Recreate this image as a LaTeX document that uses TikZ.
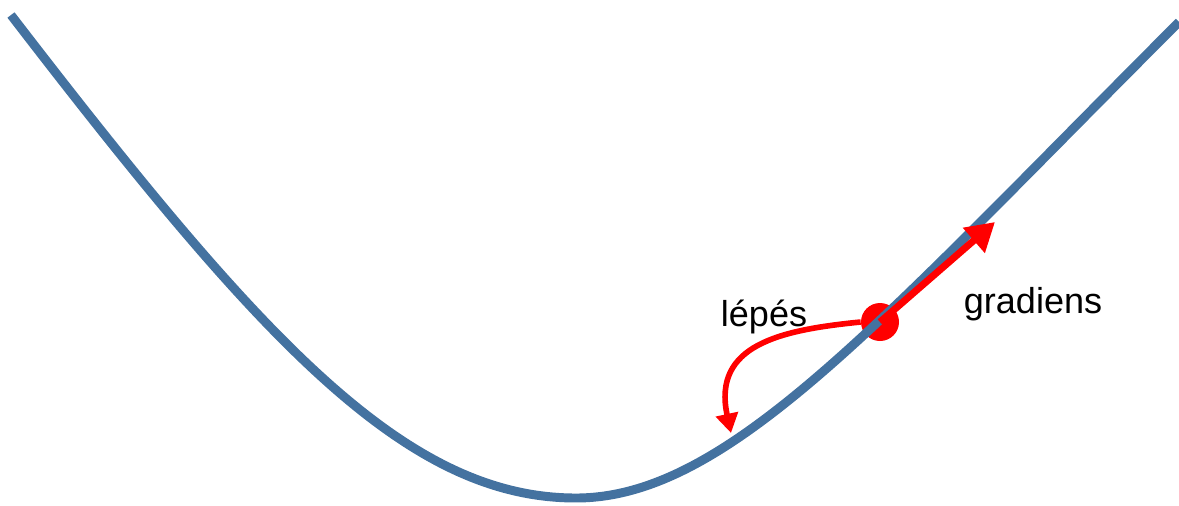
\documentclass[tikz,border=0pt]{standalone}
\usepackage{fontspec}
\setmainfont{Liberation Sans}
\usetikzlibrary{arrows.meta}
\definecolor{curveblue}{RGB}{68,114,160}
\definecolor{arrred}{RGB}{255,0,0}
\begin{document}
\begin{tikzpicture}[x=0.02cm,y=-0.02cm,
  curve/.style={draw=curveblue,line width=5.1pt},
  redarrow/.style={draw=arrred,line width=4pt,-{Triangle[length=16pt,width=18pt]}},
  steparrow/.style={draw=arrred,line width=3.2pt,-{Triangle[length=11pt,width=12.5pt]}},
  lbl/.style={font=\fontsize{20.5pt}{24pt}\selectfont,anchor=base,inner sep=0pt}]
\useasboundingbox (0,0) rectangle (1179,505);
\node[circle,fill=arrred,minimum size=38*0.02cm,inner sep=0pt] (dot) at (880,322) {};
\coordinate (cstart) at (11,15);
\coordinate (cmin) at (576,498);
\coordinate (cend) at (1179,22);
\draw[curve] (cstart) .. controls (261,340) and (405,498) .. (cmin)
  .. controls (728,498) and (879,322) .. (cend);
\coordinate (gtip) at (995,222);
\coordinate (stip) at (731,433);
\draw[redarrow] (dot.center) -- (gtip);
\draw[steparrow] (dot.west) .. controls (780,330) and (712,345) .. (stip);
\node[lbl] (lepes) at (764,326) {lépés};
\node[lbl] (grad) at (1033,313) {gradiens};
\end{tikzpicture}
\end{document}
